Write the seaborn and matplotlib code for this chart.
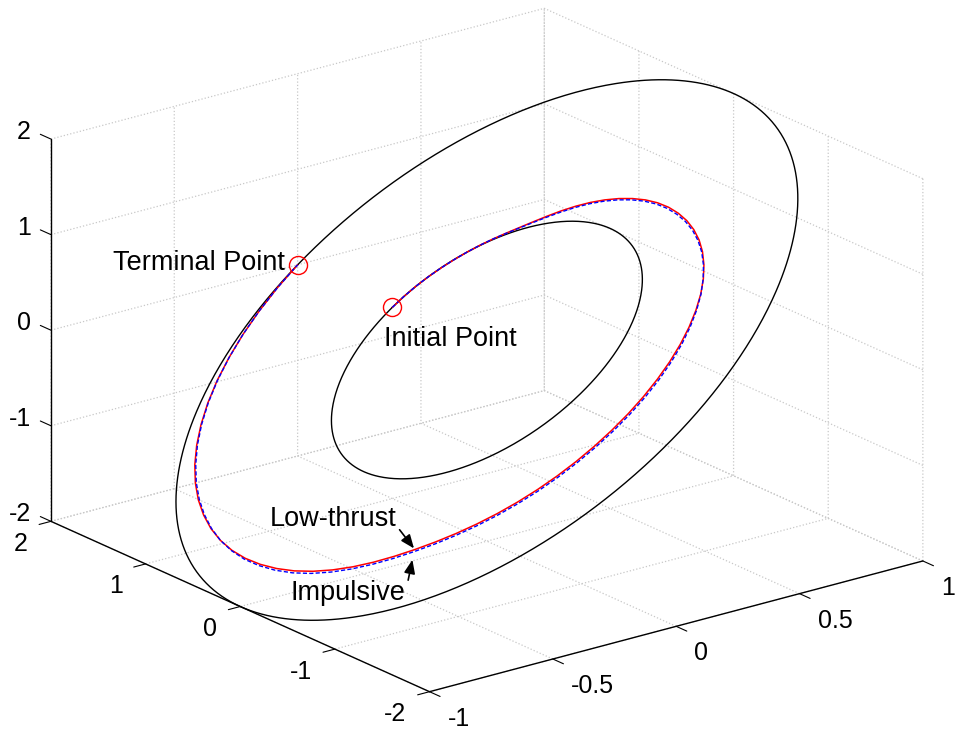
import numpy as np
import matplotlib
matplotlib.use("Agg")
import matplotlib.pyplot as plt
import seaborn as sns
from mpl_toolkits.mplot3d import proj3d

# orbit radii (normalised units)
r_inner = 1.0
r_outer = 2.0
# orbit planes: spanned by the y axis and the direction (plane_x, 0, plane_z)
plane_x = 0.5
plane_z = 1.0
plane_z_inner = 0.93

# transfer radius (in the outer orbit plane) read every 5 deg of transfer angle
theta_deg = np.arange(0, 361, 5)
r_low = [1.000, 0.996, 0.991, 0.985, 0.979, 0.974, 0.970, 0.968, 0.967, 0.969,
         0.976, 0.990, 1.011, 1.037, 1.065, 1.094, 1.123, 1.152, 1.181, 1.210,
         1.238, 1.265, 1.291, 1.317, 1.342, 1.366, 1.388, 1.408, 1.426, 1.442,
         1.455, 1.466, 1.475, 1.482, 1.487, 1.491, 1.494, 1.496, 1.498, 1.500,
         1.502, 1.504, 1.506, 1.509, 1.513, 1.519, 1.528, 1.541, 1.559, 1.581,
         1.605, 1.630, 1.655, 1.680, 1.704, 1.728, 1.752, 1.775, 1.797, 1.818,
         1.838, 1.858, 1.877, 1.895, 1.912, 1.928, 1.943, 1.956, 1.967, 1.977,
         1.986, 1.994, 2.000]
r_imp = [1.000, 0.996, 0.991, 0.985, 0.979, 0.974, 0.970, 0.968, 0.967, 0.967,
         0.972, 0.984, 1.003, 1.027, 1.055, 1.084, 1.113, 1.142, 1.171, 1.200,
         1.228, 1.255, 1.281, 1.308, 1.334, 1.359, 1.383, 1.405, 1.425, 1.444,
         1.460, 1.474, 1.486, 1.495, 1.502, 1.507, 1.510, 1.512, 1.514, 1.516,
         1.518, 1.520, 1.522, 1.525, 1.529, 1.535, 1.544, 1.557, 1.575, 1.597,
         1.621, 1.646, 1.671, 1.695, 1.717, 1.738, 1.759, 1.778, 1.797, 1.815,
         1.833, 1.852, 1.871, 1.889, 1.907, 1.924, 1.940, 1.954, 1.966, 1.977,
         1.986, 1.994, 2.000]

# where the two arrows point (angle, radius)
low_arrow = (235, 1.541)
imp_arrow = (235, 1.557)

x_ticks = [-1, -0.5, 0, 0.5, 1]
x_labels = ['-1', '-0.5', '0', '0.5', '1']
y_ticks = [-2, -1, 0, 1, 2]
y_labels = ['-2', '-1', '0', '1', '2']
z_ticks = [-2, -1, 0, 1, 2]
z_labels = ['-2', '-1', '0', '1', '2']


def orbit(r, th_deg, pz=plane_z):
    th = np.radians(th_deg)
    r = np.asarray(r, dtype=float)
    return r * plane_x * np.sin(th), r * np.cos(th), r * pz * np.sin(th)


sns.set_style("white")
plt.rcParams['font.family'] = ['Liberation Sans', 'DejaVu Sans']
plt.rcParams.update({'grid.color': '#c8c8c8', 'grid.linestyle': ':',
                     'grid.linewidth': 0.9, 'text.color': 'black'})

fig = plt.figure(figsize=(9.55, 7.32), dpi=100)
ax = fig.add_axes([0.0, 0.034, 1.0, 0.95], projection='3d', proj_type='ortho')
ax.view_init(elev=20.2, azim=-127.5)
ax.set_box_aspect((1, 1, 0.655), zoom=1.353)

th_fine = np.linspace(0, 360, 721)
ax.plot(*orbit(r_inner, th_fine, plane_z_inner), color='black', lw=1.0)
ax.plot(*orbit(r_outer, th_fine), color='black', lw=1.0)
ax.plot(*orbit(r_low, theta_deg), color='red', lw=1.1)
ax.plot(*orbit(r_imp, theta_deg), color='blue', lw=1.0, ls=(0, (3, 1.6)))

p0 = orbit(r_low[0], theta_deg[0])
p1 = orbit(r_low[-1], theta_deg[-1])
ax.plot([p0[0]], [p0[1]], [p0[2]], 'o', mfc='none', mec='red', ms=13, mew=1.0)
ax.plot([p1[0]], [p1[1]], [p1[2]], 'o', mfc='none', mec='red', ms=13, mew=1.0)

ax.set_xlim(-1, 1)
ax.set_ylim(-2, 2)
ax.set_zlim(-2, 2)
ax.set_xticks(x_ticks)
ax.set_yticks(y_ticks)
ax.set_zticks(z_ticks)
# tick labels are placed by hand below, MATLAB style
ax.set_xticklabels([])
ax.set_yticklabels([])
ax.set_zticklabels([])
ax.tick_params(colors='black', width=1.0)
ax.grid(True)

for a in (ax.xaxis, ax.yaxis, ax.zaxis):
    a.set_pane_color((1, 1, 1, 0))
    a.pane.set_edgecolor((1, 1, 1, 0))
    a.line.set_color('black')
    a.line.set_linewidth(1.0)
ax.xaxis._axinfo['tick']['inward_factor'] = 0.35
ax.xaxis._axinfo['tick']['outward_factor'] = 0.0
ax.yaxis._axinfo['tick']['inward_factor'] = 0.3
ax.yaxis._axinfo['tick']['outward_factor'] = 0.0
# z ticks point along y like in MATLAB
ax.zaxis._get_tickdir = lambda *args, **kw: 1
ax.zaxis._axinfo['tick']['inward_factor'] = 0.0
ax.zaxis._axinfo['tick']['outward_factor'] = 0.35

fig.canvas.draw()
M = ax.get_proj()


def to2d(x, y, z):
    x2, y2, _ = proj3d.proj_transform(x, y, z, M)
    return (float(x2), float(y2))


tick_font = 18
for xt, lab in zip(x_ticks, x_labels):
    ax.annotate(lab, xy=to2d(xt, -2, -2), xytext=(13, -19.5), textcoords='offset points',
                ha='left', va='center', fontsize=tick_font, annotation_clip=False)
for yt, lab in zip(y_ticks, y_labels):
    ax.annotate(lab, xy=to2d(-1, yt, -2), xytext=(-16.5, -16.2), textcoords='offset points',
                ha='right', va='center', fontsize=tick_font, annotation_clip=False)
for zt, lab in zip(z_ticks, z_labels):
    ax.annotate(lab, xy=to2d(-1, 2, zt), xytext=(-14.4, 5), textcoords='offset points',
                ha='right', va='center', fontsize=tick_font, annotation_clip=False)

ax.annotate('Terminal Point', xy=to2d(*p1), xytext=(-9, 1), textcoords='offset points',
            ha='right', va='center', fontsize=19.5, annotation_clip=False)
ax.annotate('Initial Point', xy=to2d(*p0), xytext=(-6, -23), textcoords='offset points',
            ha='left', va='center', fontsize=19.5, annotation_clip=False)

arrow = dict(arrowstyle='-|>,head_length=0.42,head_width=0.17', color='black', lw=1.2,
             shrinkA=0)
ax.annotate('Low-thrust', xy=to2d(*orbit(low_arrow[1], low_arrow[0])), xytext=(-59, 22),
            textcoords='offset points', ha='center', va='center', fontsize=19.5,
            annotation_clip=False,
            arrowprops=dict(arrow, shrinkB=1, relpos=(1.0, 0.25)))
ax.annotate('Impulsive', xy=to2d(*orbit(imp_arrow[1], imp_arrow[0])), xytext=(-48, -30),
            textcoords='offset points', ha='center', va='center', fontsize=19.5,
            annotation_clip=False,
            arrowprops=dict(arrow, shrinkB=6, relpos=(1.0, 0.4)))

fig.savefig('out.png', dpi=100)
